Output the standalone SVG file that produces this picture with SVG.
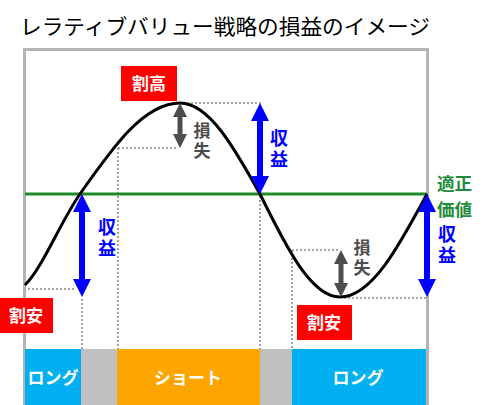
<svg xmlns="http://www.w3.org/2000/svg" width="482" height="405" viewBox="0 0 482 405">
<style>
.jp{font-family:"Noto Sans CJK JP","Noto Sans CJK SC",sans-serif;font-weight:bold}
.dot{stroke:#8c8c8c;stroke-width:1.6;stroke-dasharray:2 2;fill:none}
.blue{fill:#0000ff}
.gray{fill:#4d4d4d}
.red{fill:#ff0000}
.wt{fill:#fff;font-size:17px;text-anchor:middle}
.vt{writing-mode:vertical-rl;text-anchor:middle;letter-spacing:3px}
.bt{fill:#0000ff;font-size:18px}
.gt{fill:#4d4d4d;font-size:17px}
</style>
<rect width="482" height="405" fill="#fff"/>
<text x="20" y="34" class="jp" style="font-weight:normal" font-size="21" textLength="410" lengthAdjust="spacingAndGlyphs" fill="#000">レラティブバリュー戦略の損益のイメージ</text>
<rect id="frame" x="24.5" y="49.5" width="403" height="360" fill="none" stroke="#b4b4b4" stroke-width="3"/>
<g id="bottom-bar">
<rect x="25" y="349" width="56" height="56" fill="#00b0f0"/>
<rect x="81" y="349" width="36" height="56" fill="#c0c0c0"/>
<rect x="117" y="349" width="143" height="56" fill="#ffa500"/>
<rect x="260" y="349" width="32" height="56" fill="#c0c0c0"/>
<rect x="292" y="349" width="134" height="56" fill="#00b0f0"/>
<text x="53" y="384" class="jp wt">ロング</text>
<text x="188" y="384" class="jp wt">ショート</text>
<text x="358" y="384" class="jp wt">ロング</text>
</g>
<g id="connectors">
<path class="dot" d="M183 103H262M118 148H178M118 148V349M260 196V349M82 299V349M28 289H76M292 250H340M292 250V349M344 298H427"/>
<line id="fair-value" x1="25" y1="194" x2="427" y2="194" stroke="#1e8c2a" stroke-width="3"/>
<path id="price-curve" d="M25 285C43 267 60 222.6 80 194C112.6 147.4 143.8 103 180 103C209 103 234 147.4 260 194C286 246.8 311 297 340 297C371.5 297 398.6 246.8 427 194" fill="none" stroke="#000" stroke-width="3"/>
<path class="blue" d="M82 194L91 212H85V279H91L82 297L73 279H79V212H73Z"/>
<path class="blue" d="M260 103L269 121H263V176H269L260 194L251 176H257V121H251Z"/>
<path class="blue" d="M427 194L436 212H430V279H436L427 297L418 279H424V212H418Z"/>
<path class="gray" d="M180 103L187 117H182.5V134H187L180 148L173 134H177.5V117H173Z"/>
<path class="gray" d="M341 250L348 264H343.5V283H348L341 297L334 283H338.5V264H334Z"/>
</g>
<g id="label-high"><rect class="red" x="121" y="66" width="56" height="35"/><text x="149" y="90" class="jp wt">割高</text></g>
<g id="label-low-left"><rect class="red" x="0" y="298" width="53" height="35"/><text x="26" y="322" class="jp wt">割安</text></g>
<g id="label-low-right"><rect class="red" x="297" y="305" width="55" height="35"/><text x="324" y="329" class="jp wt">割安</text></g>
<g id="fair-value-label" class="jp" font-size="17.5" fill="#1e8c3a"><text x="437" y="189.5">適正</text><text x="437" y="215.5">価値</text></g>
<g id="gain-left"><text x="107" y="239" class="jp bt vt">収益</text></g>
<g id="gain-mid"><text x="279" y="150" class="jp bt vt">収益</text></g>
<g id="gain-right"><text x="447" y="246" class="jp bt vt">収益</text></g>
<g id="loss-peak"><text x="202" y="142" class="jp gt vt">損失</text></g>
<g id="loss-trough"><text x="362" y="259" class="jp gt vt">損失</text></g>
</svg>
